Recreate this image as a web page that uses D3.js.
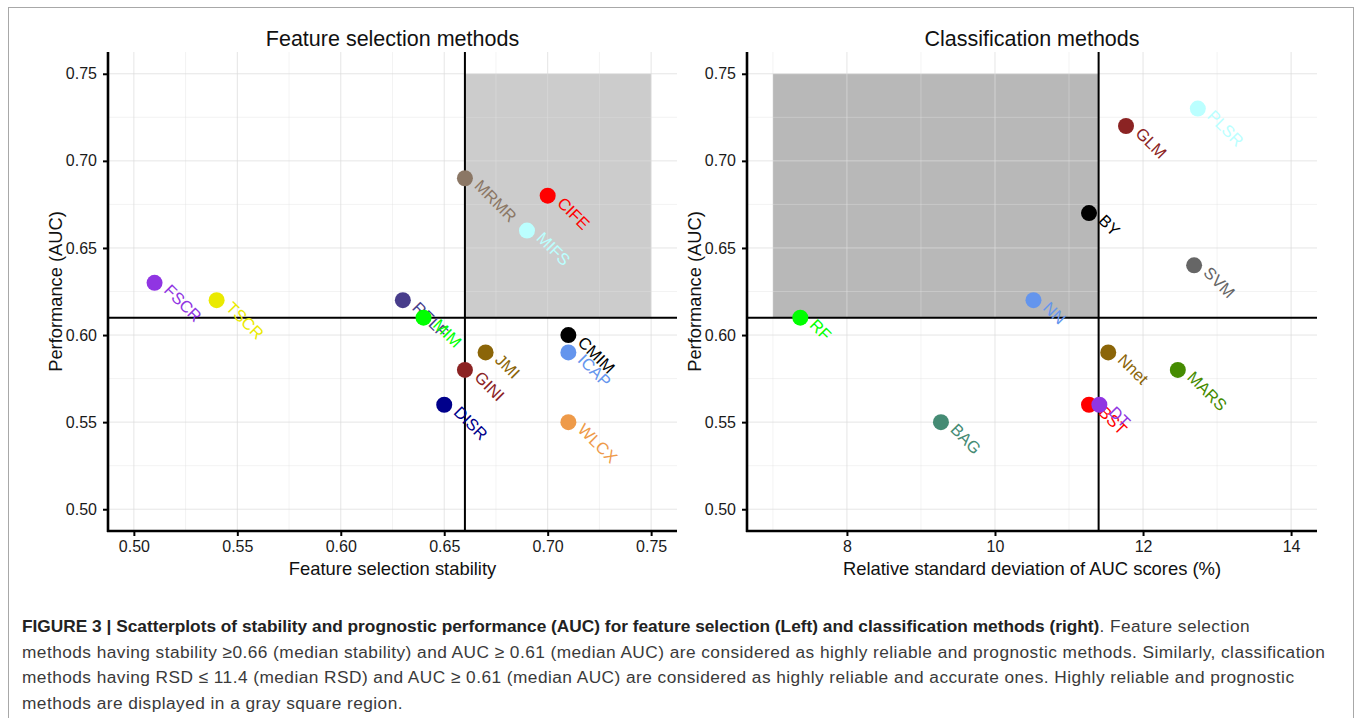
<!DOCTYPE html>
<html>
<head>
<meta charset="utf-8">
<script src="https://cdn.jsdelivr.net/npm/d3@7"></script>
<style>
  body { margin: 0; background: #fff; }
  svg text { font-family: "Liberation Sans", Arial, Helvetica, sans-serif; }
</style>
</head>
<body>
<svg id="fig" width="1359" height="718"></svg>
<script>
// Feature selection methods (left panel)
var fsMethods   = ["FSCR", "TSCR", "RELF", "MIM", "MRMR", "CIFE", "MIFS", "CMIM", "ICAP", "JMI", "GINI", "DISR", "WLCX"];
var fsStability = [0.51, 0.54, 0.63, 0.64, 0.66, 0.70, 0.69, 0.71, 0.71, 0.67, 0.66, 0.65, 0.71];
var fsAUC       = [0.63, 0.62, 0.62, 0.61, 0.69, 0.68, 0.66, 0.60, 0.59, 0.59, 0.58, 0.56, 0.55];
var fsColors    = ["#9035e2", "#eaea00", "#483d8b", "#00ff00", "#8b7765", "#ff0000", "#bbffff", "#000000", "#6495ed", "#8b6508", "#8b2323", "#00008b", "#ee9a49"];
var fsTicksX    = [0.50, 0.55, 0.60, 0.65, 0.70, 0.75];

// Classification methods (right panel)
var clMethods = ["RF", "BAG", "NN", "BY", "GLM", "PLSR", "SVM", "Nnet", "MARS", "BST", "DT"];
var clRSD     = [7.37, 9.27, 10.52, 11.27, 11.77, 12.74, 12.69, 11.53, 12.47, 11.27, 11.41];
var clAUC     = [0.61, 0.55, 0.62, 0.67, 0.72, 0.73, 0.64, 0.59, 0.58, 0.56, 0.56];
var clColors  = ["#00ff00", "#458b74", "#6495ed", "#000000", "#8b2323", "#bbffff", "#666666", "#8b6508", "#458b00", "#ff0000", "#9035e2"];
var clTicksX  = [8, 10, 12, 14];

// Shared y axis ticks and medians
var aucTicks = [0.50, 0.55, 0.60, 0.65, 0.70, 0.75];
var medianAUC = 0.61;
var medianStability = 0.66;
var medianRSD = 11.4;

var captionLines = [
  [{ t: "FIGURE 3 | Scatterplots of stability and prognostic performance (AUC) for feature selection (Left) and classification methods (right)", b: true },
   { t: ". Feature selection", b: false }],
  [{ t: "methods having stability \u22650.66 (median stability) and AUC \u2265 0.61 (median AUC) are considered as highly reliable and prognostic methods. Similarly, classification", b: false }],
  [{ t: "methods having RSD \u2264 11.4 (median RSD) and AUC \u2265 0.61 (median AUC) are considered as highly reliable and accurate ones. Highly reliable and prognostic", b: false }],
  [{ t: "methods are displayed in a gray square region.", b: false }]
];

var svg = d3.select("#fig");

// Outer frame of the figure
svg.append("rect")
  .attr("x", 8.5).attr("y", 7.5)
  .attr("width", 1345).attr("height", 730)
  .attr("fill", "none")
  .attr("stroke", "#a8a8a8")
  .attr("stroke-width", 1);

var plotTop = 52, plotBottom = 531;
var y = d3.scaleLinear().domain([0.4875, 0.7625]).range([plotBottom, plotTop]);

function drawPanel(opt) {
  var x = d3.scaleLinear().domain(opt.xDomain).range([opt.left, opt.right]);
  var g = svg.append("g");

  // gray region of reliable + prognostic methods
  g.append("rect")
    .attr("x", x(opt.rect[0]))
    .attr("y", y(0.75))
    .attr("width", x(opt.rect[1]) - x(opt.rect[0]))
    .attr("height", y(medianAUC) - y(0.75))
    .attr("fill", opt.rectFill);

  // minor grid
  var step = opt.ticksX[1] - opt.ticksX[0];
  var xMinor = opt.ticksX.map(d => d - step / 2);
  xMinor.push(opt.ticksX[opt.ticksX.length - 1] + step / 2);
  xMinor = xMinor.filter(d => x(d) > opt.left + 2 && x(d) < opt.right);
  var yMinor = aucTicks.slice(0, -1).map((d, i) => (d + aucTicks[i + 1]) / 2);

  g.selectAll(".vminor").data(xMinor).enter().append("line")
    .attr("x1", d => x(d)).attr("x2", d => x(d))
    .attr("y1", plotTop).attr("y2", plotBottom)
    .attr("stroke", "#e0e0e0").attr("stroke-opacity", 0.4);
  g.selectAll(".hminor").data(yMinor).enter().append("line")
    .attr("x1", opt.left).attr("x2", opt.right)
    .attr("y1", d => y(d)).attr("y2", d => y(d))
    .attr("stroke", "#e0e0e0").attr("stroke-opacity", 0.4);

  // major grid
  g.selectAll(".vmajor").data(opt.ticksX).enter().append("line")
    .attr("x1", d => x(d)).attr("x2", d => x(d))
    .attr("y1", plotTop).attr("y2", plotBottom)
    .attr("stroke", "#dbdbdb").attr("stroke-opacity", 0.72);
  g.selectAll(".hmajor").data(aucTicks).enter().append("line")
    .attr("x1", opt.left).attr("x2", opt.right)
    .attr("y1", d => y(d)).attr("y2", d => y(d))
    .attr("stroke", "#dbdbdb").attr("stroke-opacity", 0.72);

  // median lines
  g.append("line")
    .attr("x1", opt.left).attr("x2", opt.right)
    .attr("y1", y(medianAUC)).attr("y2", y(medianAUC))
    .attr("stroke", "#000").attr("stroke-width", 2);
  g.append("line")
    .attr("x1", x(opt.vline)).attr("x2", x(opt.vline))
    .attr("y1", plotTop).attr("y2", plotBottom)
    .attr("stroke", "#000").attr("stroke-width", 2);

  // axes
  var xAxis = d3.axisBottom(x).tickValues(opt.ticksX).tickFormat(opt.fmt).tickSize(5).tickPadding(5);
  var yAxis = d3.axisLeft(y).tickValues(aucTicks).tickFormat(d3.format(".2f")).tickSize(5).tickPadding(6);

  var gx = g.append("g").attr("transform", "translate(0," + plotBottom + ")").call(xAxis);
  var gy = g.append("g").attr("transform", "translate(" + opt.left + ",0)").call(yAxis);
  [gx, gy].forEach(a => {
    a.select(".domain").remove();
    a.selectAll(".tick line").attr("stroke", "#000").attr("stroke-width", 2);
    a.selectAll(".tick text").attr("fill", "#1a1a1a").style("font-size", "16px")
      .style("font-family", "Liberation Sans, Arial, sans-serif");
  });
  gx.append("line").attr("x1", opt.left - 1).attr("x2", opt.right).attr("stroke", "#000").attr("stroke-width", 2.6);
  gy.append("line").attr("y1", plotTop).attr("y2", plotBottom + 1).attr("stroke", "#000").attr("stroke-width", 2.6);

  // labels, rotated 45 degrees
  var idx = d3.range(opt.names.length);
  g.selectAll(".lab").data(idx).enter().append("text")
    .attr("transform", i => "translate(" + x(opt.xs[i]) + "," + y(opt.ys[i]) + ") rotate(45)")
    .attr("x", 12).attr("y", 0)
    .attr("fill", i => opt.colors[i])
    .style("font-size", "16.5px")
    .text(i => opt.names[i]);

  // points
  g.selectAll(".pt").data(idx).enter().append("circle")
    .attr("cx", i => x(opt.xs[i]))
    .attr("cy", i => y(opt.ys[i]))
    .attr("r", 8)
    .attr("fill", i => opt.colors[i]);

  // titles
  var cx = (opt.left + opt.right) / 2;
  g.append("text").attr("x", cx).attr("y", 46).attr("text-anchor", "middle")
    .style("font-size", "21.5px").attr("fill", "#111").text(opt.title);
  g.append("text").attr("x", cx).attr("y", 575).attr("text-anchor", "middle")
    .style("font-size", "18.4px").attr("fill", "#111").text(opt.xTitle);
  g.append("text")
    .attr("transform", "translate(" + (opt.left - 46) + "," + ((plotTop + plotBottom) / 2) + ") rotate(-90)")
    .attr("text-anchor", "middle")
    .style("font-size", "18.3px").attr("fill", "#111").text("Performance (AUC)");
}

drawPanel({
  left: 108, right: 677,
  xDomain: [0.4875, 0.7625],
  ticksX: fsTicksX, fmt: d3.format(".2f"),
  rect: [medianStability, 0.75], rectFill: "#cccccc",
  vline: medianStability,
  names: fsMethods, xs: fsStability, ys: fsAUC, colors: fsColors,
  title: "Feature selection methods",
  xTitle: "Feature selection stability"
});

drawPanel({
  left: 747, right: 1317,
  xDomain: [6.65, 14.35],
  ticksX: clTicksX, fmt: d3.format("d"),
  rect: [7, medianRSD], rectFill: "#b8b8b8",
  vline: medianRSD,
  names: clMethods, xs: clRSD, ys: clAUC, colors: clColors,
  title: "Classification methods",
  xTitle: "Relative standard deviation of AUC scores (%)"
});

// Caption
var cap = svg.append("g");
captionLines.forEach((parts, li) => {
  var t = cap.append("text")
    .attr("x", 22)
    .attr("y", 632 + li * 25.6)
    .style("font-size", "17.3px");
  parts.forEach(p => {
    t.append("tspan")
      .attr("font-weight", p.b ? "bold" : "normal")
      .attr("fill", p.b ? "#222" : "#3a3a3a")
      .style("letter-spacing", p.b ? "0px" : "0.45px")
      .text(p.t);
  });
});
</script>
</body>
</html>
